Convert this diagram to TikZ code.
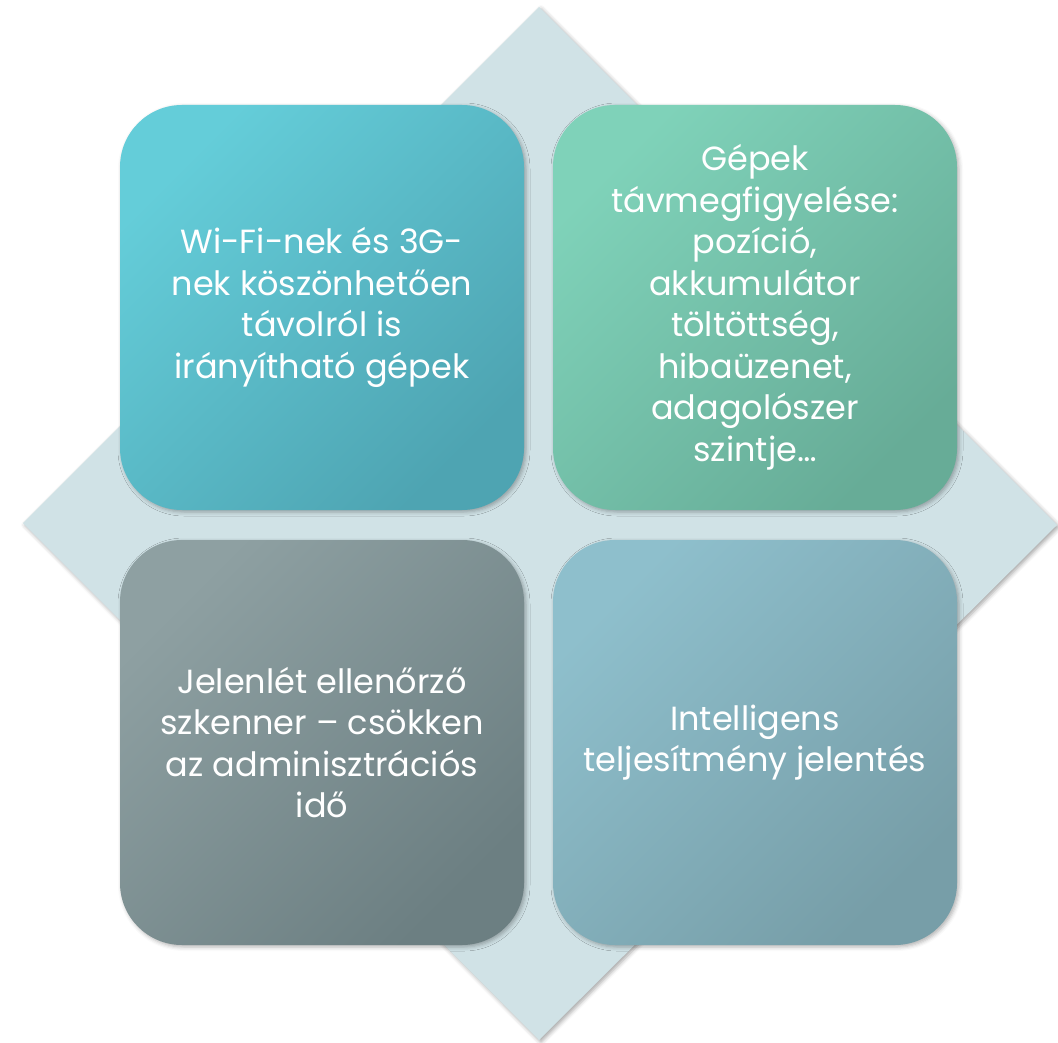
\documentclass[tikz,border=0pt]{standalone}
\usepackage{fontspec}
\setmainfont{Poppins}
\usetikzlibrary{shadows.blur}
\definecolor{diam}{HTML}{D0E2E6}
\definecolor{tlA}{HTML}{64CDD9}
\definecolor{tlB}{HTML}{4EA4B2}
\definecolor{trA}{HTML}{7FD2B9}
\definecolor{trB}{HTML}{67AC97}
\definecolor{blA}{HTML}{8EA0A2}
\definecolor{blB}{HTML}{6C7F82}
\definecolor{brA}{HTML}{8EBFCC}
\definecolor{brB}{HTML}{779EA8}
\tikzset{
  quad/.style={minimum width=404pt, minimum height=405pt, rounded corners=62pt,
    align=center, text=white, inner sep=0pt,
    font=\fontsize{33.5}{41.5}\selectfont,
    blur shadow={shadow xshift=2pt, shadow yshift=-2pt, shadow blur radius=4pt, shadow opacity=30}},
  grad/.style 2 args={top color=#1, middle color=#1!65!#2, bottom color=#2, shading angle=45},
}
\begin{document}
\begin{tikzpicture}[x=1pt,y=-1pt]
\useasboundingbox (0,0) rectangle (1058,1043);
\fill[diam, blur shadow={shadow xshift=2pt, shadow yshift=-2pt, shadow blur radius=4pt, shadow opacity=35}] (539,7) -- (1057,525) -- (539,1040) -- (23,523) -- cycle;
\node[quad, grad={tlA}{tlB}] (tl) at (322,307.5)
  {Wi-Fi-nek és 3G-\\nek köszönhetően\\távolról is\\irányítható gépek};
\node[quad, grad={trA}{trB}] (tr) at (755,307.5)
  {Gépek\\távmegfigyelése:\\pozíció,\\akkumulátor\\töltöttség,\\hibaüzenet,\\adagolószer\\szintje…};
\node[quad, grad={blA}{blB}] (bl) at (322,742.5)
  {Jelenlét ellenőrző\\szkenner – csökken\\az adminisztrációs\\idő};
\node[quad, grad={brA}{brB}] (br) at (755,742.5)
  {Intelligens\\teljesítmény jelentés};
\end{tikzpicture}
\end{document}
